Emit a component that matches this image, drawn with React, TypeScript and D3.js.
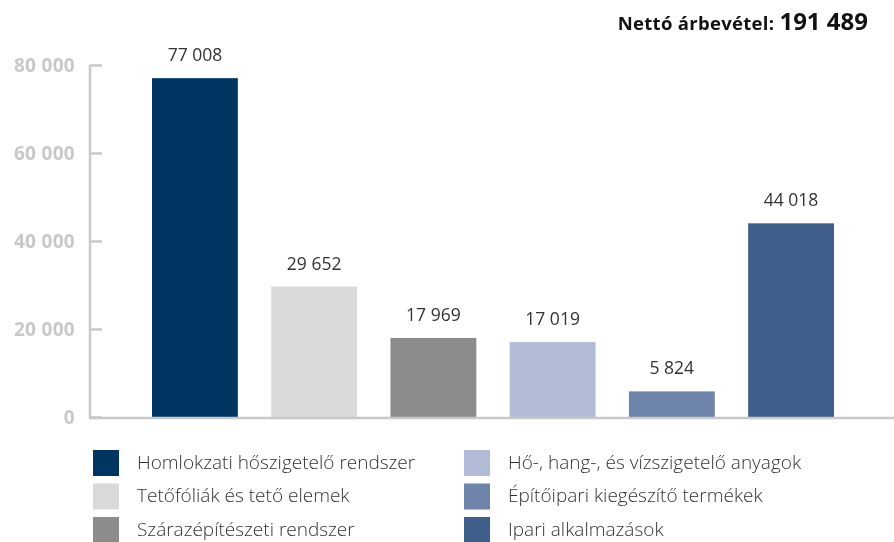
import { useEffect, useRef } from 'react';
import * as d3 from 'd3';

// Categories, values and colours
const categories = [
  'Homlokzati hőszigetelő rendszer',
  'Tetőfóliák és tető elemek',
  'Szárazépítészeti rendszer',
  'Hő-, hang-, és vízszigetelő anyagok',
  'Építőipari kiegészítő termékek',
  'Ipari alkalmazások',
];
const values = [77008, 29652, 17969, 17019, 5824, 44018];
const colors = ['#003562', '#d9d9d9', '#8c8c8c', '#b3bcd6', '#6e84ab', '#3f5e8a'];
const yTicks = [0, 20000, 40000, 60000, 80000];
const totalLabel = 'Nettó árbevétel:';
const totalValue = '191 489';

const fmt = (v: number) => {
  const s = String(v);
  return s.replace(/\B(?=(\d{3})+(?!\d))/g, ' ');
};

export default function App() {
  const svgRef = useRef<SVGSVGElement>(null);

  useEffect(() => {
    if (!svgRef.current) return;
    const width = 894;
    const height = 542;
    const svg = d3.select(svgRef.current);
    svg.selectAll('*').remove();
    svg.attr('width', width).attr('height', height);

    const font = "'Open Sans', 'Noto Sans', sans-serif";
    const axisColor = '#c8c8c8';

    const x = d3.scaleBand<string>()
      .domain(categories)
      .range([152, 834])
      .paddingInner(0.28)
      .paddingOuter(0);

    const y = d3.scaleLinear()
      .domain([0, 80000])
      .range([417, 65]);

    // title
    const title = svg.append('text')
      .attr('x', 868)
      .attr('y', 30)
      .attr('text-anchor', 'end')
      .attr('font-family', font)
      .attr('font-weight', 700)
      .attr('fill', '#111');
    title.append('tspan').attr('font-size', 18.5).attr('letter-spacing', 0.3).text(totalLabel + ' ');
    title.append('tspan').attr('font-size', 24).attr('letter-spacing', 0).text(totalValue);

    // y axis
    const yAxis = d3.axisLeft(y)
      .tickValues(yTicks)
      .tickSize(0)
      .tickFormat((d) => fmt(d as number));

    const ga = svg.append('g')
      .attr('transform', 'translate(90,0)')
      .call(yAxis);
    ga.select('.domain').remove();
    ga.selectAll('.tick line')
      .attr('x2', 12)
      .attr('stroke', axisColor)
      .attr('stroke-width', 2.5);
    ga.selectAll('.tick text')
      .attr('x', -15)
      .attr('dy', '0.36em')
      .attr('fill', axisColor)
      .attr('font-family', font)
      .attr('font-weight', 700)
      .attr('font-size', 19)
      .attr('letter-spacing', 0.3);

    svg.append('line')
      .attr('x1', 90).attr('x2', 90)
      .attr('y1', y(80000)).attr('y2', y(0) + 1)
      .attr('stroke', axisColor)
      .attr('stroke-width', 2.5);

    // bars
    svg.append('g')
      .selectAll('rect')
      .data(values)
      .join('rect')
      .attr('x', (_, i) => x(categories[i])!)
      .attr('width', x.bandwidth())
      .attr('y', (d) => y(d))
      .attr('height', (d) => y(0) - y(d))
      .attr('fill', (_, i) => colors[i]);

    // baseline
    svg.append('line')
      .attr('x1', 89).attr('x2', width)
      .attr('y1', y(0) + 1).attr('y2', y(0) + 1)
      .attr('stroke', axisColor)
      .attr('stroke-width', 2.5);

    // value labels
    svg.append('g')
      .selectAll('text')
      .data(values)
      .join('text')
      .attr('x', (_, i) => x(categories[i])! + x.bandwidth() / 2)
      .attr('y', (d) => y(d) - 17)
      .attr('text-anchor', 'middle')
      .attr('font-family', font)
      .attr('font-size', 17.5)
      .attr('fill', '#333')
      .text((d) => fmt(d));

    // legend, two columns of three
    const legend = svg.append('g');
    categories.forEach((c, i) => {
      const col = Math.floor(i / 3);
      const row = i % 3;
      const lx = col === 0 ? 93 : 464;
      const ly = 450 + row * 33.5;
      legend.append('rect')
        .attr('x', lx).attr('y', ly)
        .attr('width', 26).attr('height', 26)
        .attr('fill', colors[i]);
      legend.append('text')
        .attr('x', col === 0 ? 137 : 508)
        .attr('y', ly + 18.5)
        .attr('font-family', font)
        .attr('font-size', 19)
        .attr('font-weight', 300)
        .attr('fill', '#333')
        .text(c);
    });
  }, []);

  return (
    <div style={{ position: 'fixed', top: 0, left: 0 }}>
      <svg ref={svgRef} style={{ display: 'block' }}></svg>
    </div>
  );
}
